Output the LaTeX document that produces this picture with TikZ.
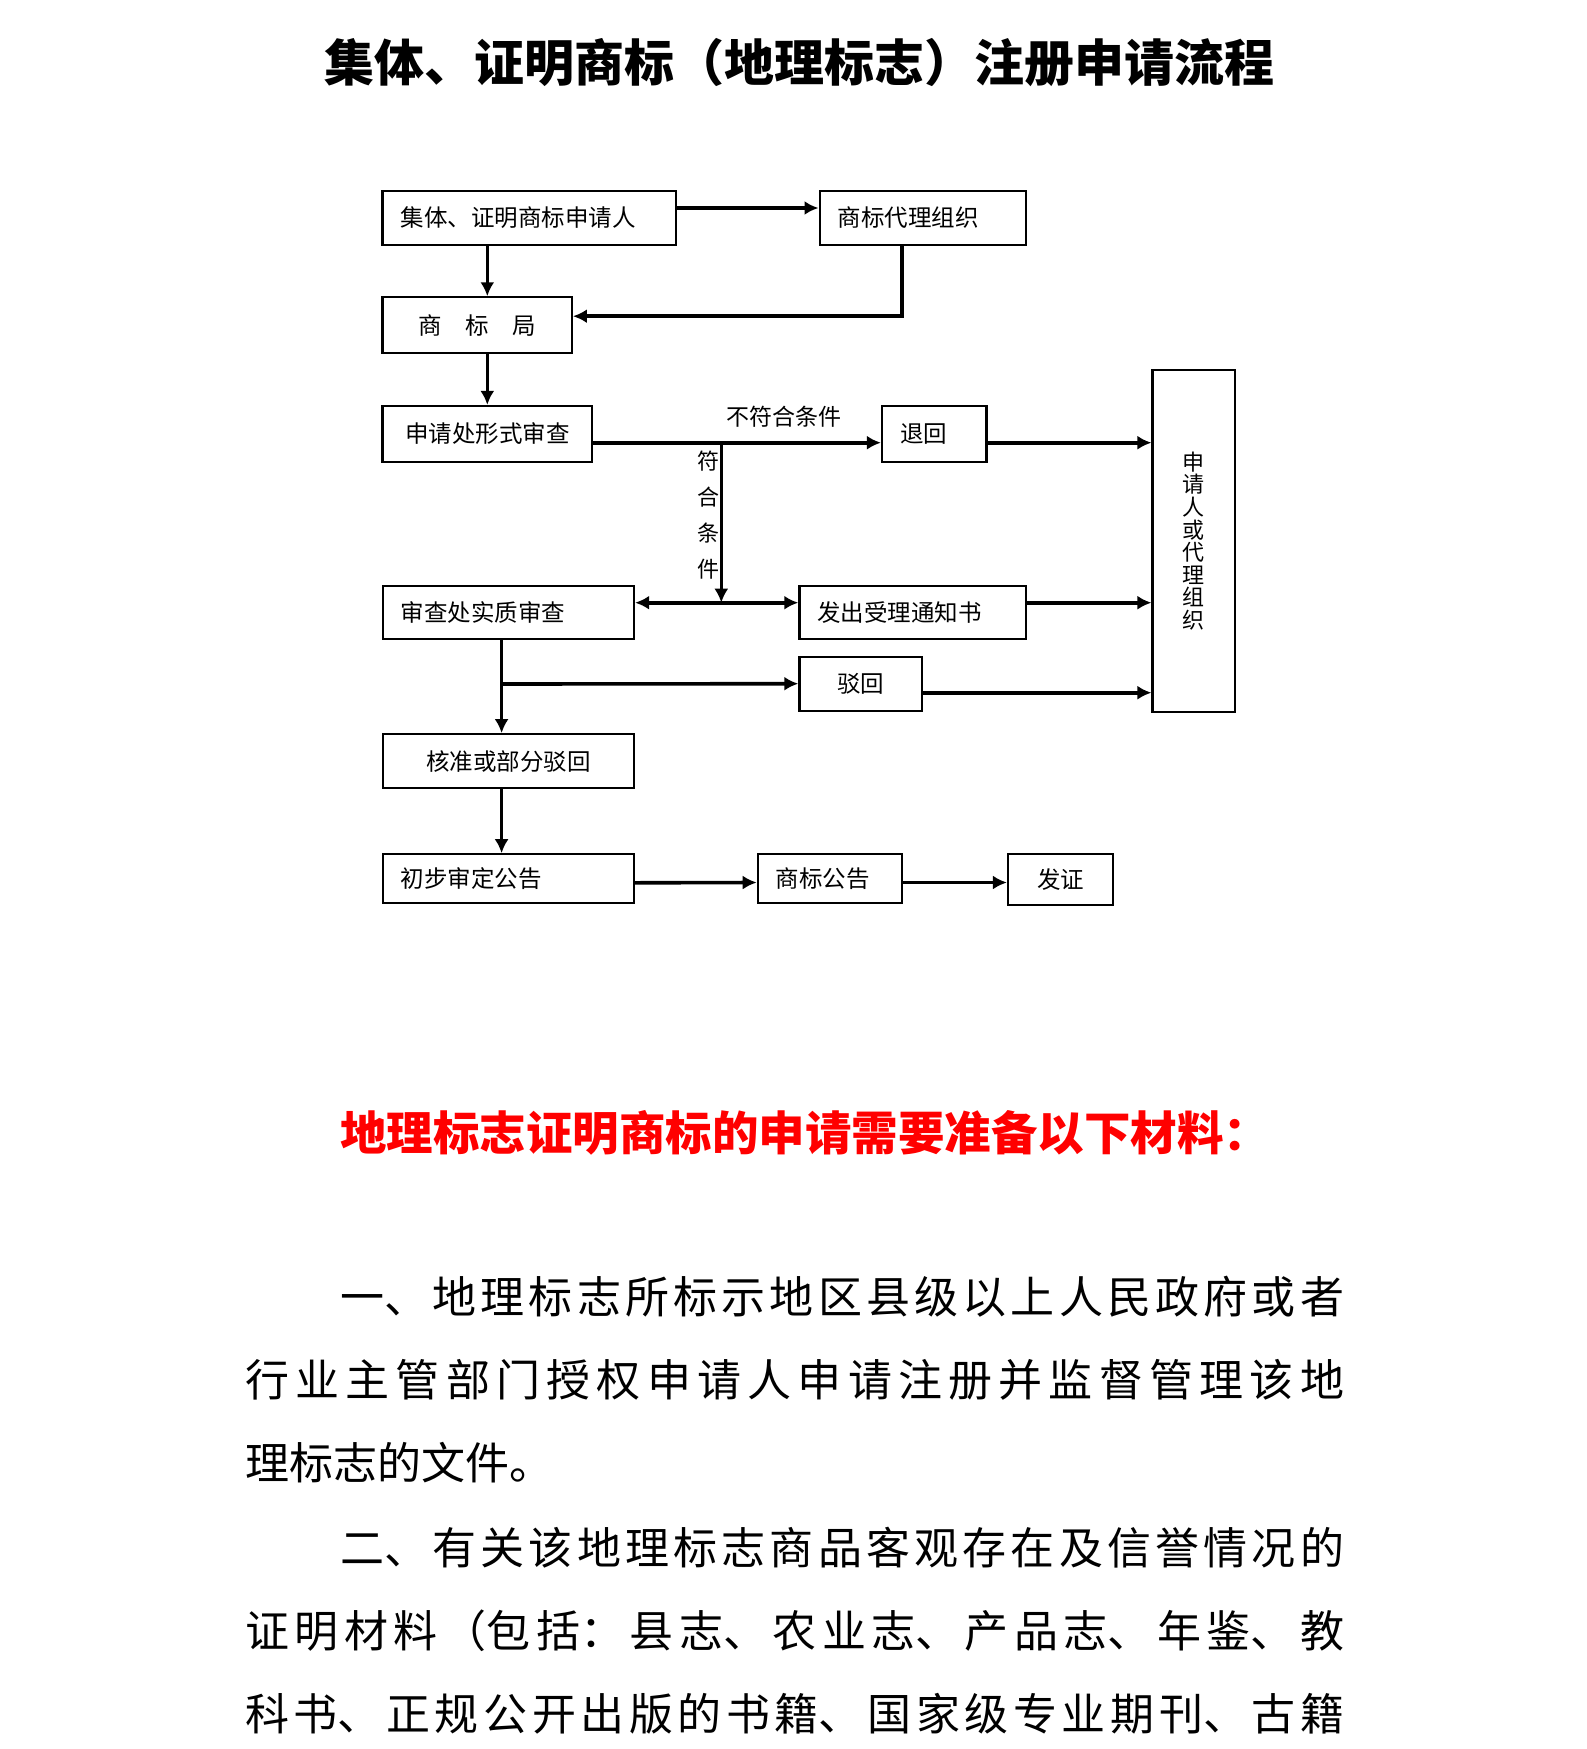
\documentclass[tikz,border=0pt]{standalone}
\usepackage{fontspec}
\setmainfont{Noto Sans CJK SC}
\usetikzlibrary{arrows.meta}
\XeTeXlinebreaklocale "zh"
\XeTeXlinebreakskip=0pt plus 12pt

\begin{document}
\begin{tikzpicture}[x=1pt,y=-1pt,
  stepbox/.style={draw,line width=2.2pt,inner xsep=18pt,inner ysep=0pt,
    minimum height=54pt,font=\fontsize{23.5}{28}\selectfont},
  leftbox/.style={stepbox,align=left},
  midbox/.style={stepbox,align=center},
  flow/.style={line width=3.6pt,-{Latex[length=14pt,width=14pt]}},
  tag/.style={inner sep=0pt,align=center,font=\fontsize{23}{36}\selectfont},
  heading/.style={inner sep=0pt,font=\fontsize{50}{60}\selectfont\bfseries},
  callout/.style={heading,text=red,font=\fontsize{46.5}{56}\selectfont\bfseries},
  item/.style={anchor=base west,inner sep=0pt,text width=1099pt,align=justify,
    font=\fontsize{44}{83}\selectfont}
]
% page of the scanned sheet, in pixels
\useasboundingbox (0,0) rectangle (1587,1749);

\node[heading] (title) at (799,63) {集体、证明商标（地理标志）注册申请流程};

\node[leftbox,text width=257.5pt] (apply) at (529.3,218) {集体、证明商标申请人};
\node[leftbox,text width=170.4pt] (agent) at (922.8,218) {商标代理组织};
\node[midbox,minimum width=189.3pt,minimum height=55.7pt] (office) at (477.2,325.2) {商　标　局};
\node[midbox,minimum width=209.5pt,minimum height=56pt] (formal) at (487.3,434) {申请处形式审查};
\node[leftbox,text width=68.5pt,minimum height=56pt] (refuse) at (934.3,434) {退回};
\node[midbox,minimum width=82.5pt,minimum height=342pt,
  font=\fontsize{22}{22.6}\selectfont] (party) at (1193.8,541)
  {申\\请\\人\\或\\代\\理\\组\\织};
\node[leftbox,text width=215.4pt,minimum height=53.3pt] (exam) at (508.3,612.4) {审查处实质审查};
\node[leftbox,text width=190.6pt,minimum height=53.3pt] (accept) at (912.7,612.4) {发出受理通知书};
\node[midbox,minimum width=122.6pt] (reject) at (860.7,683.7) {驳回};
\node[midbox,minimum width=251pt] (approve) at (508.3,761.2) {核准或部分驳回};
\node[leftbox,text width=215pt,minimum height=49pt] (prelim) at (508.3,878.8) {初步审定公告};
\node[leftbox,text width=108.2pt,minimum height=49pt] (gazette) at (829.9,878.5) {商标公告};
\node[midbox,minimum width=105pt,minimum height=51pt] (issue) at (1060.5,879.5) {发证};

\node[tag] (nofit) at (784,417) {不符合条件};
\node[tag,font=\fontsize{22}{36}\selectfont] (fit) at (708,515) {符\\合\\条\\件};

\coordinate (fork) at (721.3,442.7);
\coordinate (split) at (721.3,602.7);
\coordinate (trunk) at (501.6,684);
\coordinate (reject-out) at ([yshift=-9pt]reject.east);

\draw[flow] ([yshift=10pt]apply.east) -- ([yshift=10pt]agent.west);
\draw[flow] (apply.south -| formal.north) -- (office.north -| formal.north);
\draw[flow] ([xshift=-21pt]agent.south) |- ([yshift=9pt]office.east);
\draw[flow] (office.south -| formal.north) -- (formal.north);
\draw[flow] (formal.east |- fork) -- (refuse.west |- fork);
\draw[flow] (fork) -- (split);
\draw[flow] (split) -- (exam.east |- split);
\draw[flow] (split) -- (accept.west |- split);
\draw[flow] (refuse.east |- fork) -- (party.west |- fork);
\draw[flow] (accept.east |- split) -- (party.west |- split);
\draw[flow] (exam.south -| trunk) -- (approve.north -| trunk);
\draw[flow] (trunk) -- (reject.west);
\draw[flow] (reject-out) -- (party.west |- reject-out);
\draw[flow] (approve.south -| trunk) -- (prelim.north -| trunk);
\draw[flow] ([yshift=-4pt]prelim.east) -- ([yshift=-4pt]gazette.west);
\draw[flow] ([yshift=-4pt]gazette.east) -- ([yshift=-3pt]issue.west);

\node[callout] (needs) at (805,1133) {地理标志证明商标的申请需要准备以下材料：};

\node[item] (item-1) at (245,1313.7) {\hspace*{95pt}一、地理标志所标示地区县级以上人民政府或者\linebreak
  行业主管部门授权申请人申请注册并监督管理该地\linebreak
  理标志的文件。};
\node[item] (item-2) at (245,1564.7) {\hspace*{95pt}二、有关该地理标志商品客观存在及信誉情况的\linebreak
  证明材料（包括：县志、农业志、产品志、年鉴、教\linebreak
  科书、正规公开出版的书籍、国家级专业期刊、古籍\parfillskip=0pt\par};
\end{tikzpicture}
\end{document}
